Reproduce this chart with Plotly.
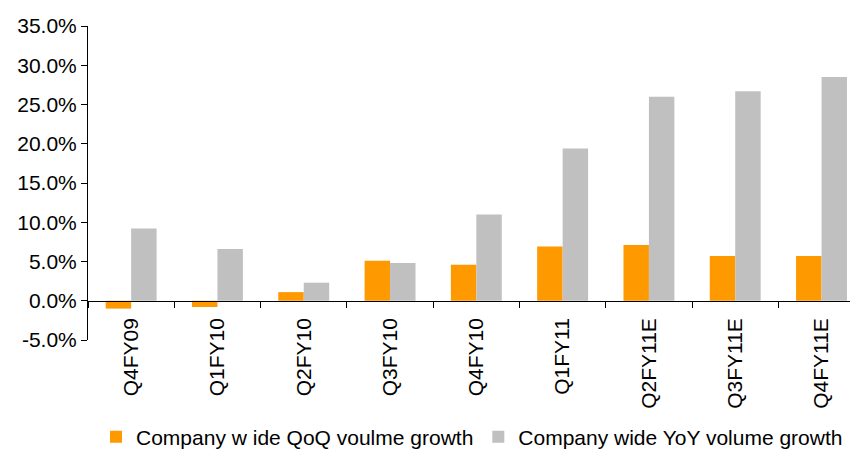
import plotly.graph_objects as go

categories = ["Q4FY09", "Q1FY10", "Q2FY10", "Q3FY10", "Q4FY10", "Q1FY11", "Q2FY11E", "Q3FY11E", "Q4FY11E"]
qoq_growth = [-1.0, -0.8, 1.1, 5.1, 4.6, 6.9, 7.1, 5.7, 5.7]
yoy_growth = [9.2, 6.6, 2.3, 4.8, 11.0, 19.4, 26.0, 26.7, 28.5]
y_ticks = [-5, 0, 5, 10, 15, 20, 25, 30, 35]
y_tick_labels = ["-5.0%", "0.0%", "5.0%", "10.0%", "15.0%", "20.0%", "25.0%", "30.0%", "35.0%"]
series_names = ["Company w ide QoQ voulme growth", "Company wide YoY volume growth"]

FONT = "Liberation Sans, Arial, sans-serif"

fig = go.Figure()
fig.add_trace(go.Bar(x=categories, y=qoq_growth, name=series_names[0],
                     marker=dict(color="#FF9900", line=dict(width=0))))
fig.add_trace(go.Bar(x=categories, y=yoy_growth, name=series_names[1],
                     marker=dict(color="#C0C0C0", line=dict(width=0))))

y_min, y_max = -5, 35
mt, mb = 26, 110
zero_pos = (0 - y_min) / (y_max - y_min)

fig.update_layout(
    width=850, height=450,
    margin=dict(l=88, r=0, t=mt, b=mb, autoexpand=False),
    paper_bgcolor="white", plot_bgcolor="white",
    barmode="group", bargap=0.41, bargroupgap=0,
    font=dict(family=FONT, size=21, color="black"),
    showlegend=True,
    legend=dict(orientation="h", xref="container", yref="container",
                x=472 / 850, xanchor="center", y=(450 - 437) / 450, yanchor="middle",
                font=dict(size=21, family=FONT, color="black"),
                itemwidth=30, tracegroupgap=0, bgcolor="rgba(0,0,0,0)"),
    xaxis=dict(
        type="category", range=[-0.5, 8.33],
        anchor="free", position=zero_pos, automargin=False,
        showline=True, linecolor="black", linewidth=1,
        ticks="outside", tickson="boundaries", ticklen=6, tickcolor="black",
        tickangle=-90, ticklabelstandoff=8,
        tickfont=dict(size=21, family=FONT, color="black"),
        showgrid=False, zeroline=False,
    ),
    yaxis=dict(
        range=[y_min, y_max], tickvals=y_ticks, ticktext=y_tick_labels, automargin=False,
        showline=True, linecolor="black", linewidth=1,
        ticks="outside", ticklen=6, tickcolor="black",
        tickfont=dict(size=21, family=FONT, color="black"),
        showgrid=False, zeroline=False,
    ),
)

fig.write_html("out.html")
